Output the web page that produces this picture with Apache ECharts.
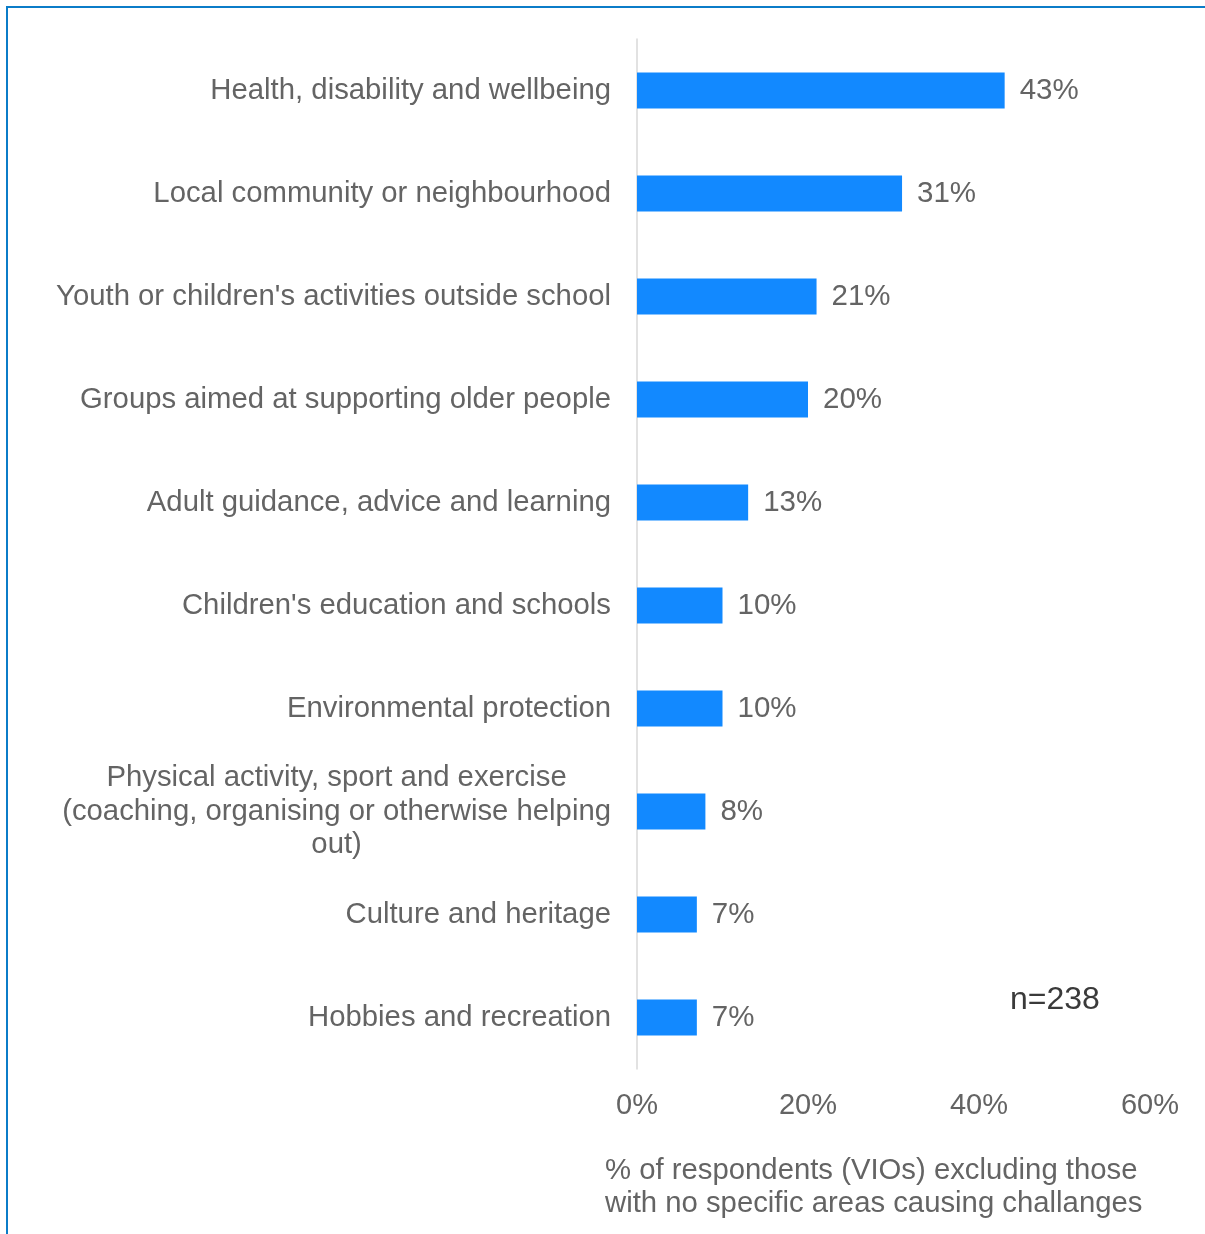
<!DOCTYPE html>
<html>
<head>
<meta charset="utf-8">
<style>
  html, body { margin: 0; padding: 0; background: #fff; }
  #wrap { position: relative; width: 1205px; height: 1234px; overflow: hidden; }
  #chart { position: absolute; left: 0; top: 0; width: 1205px; height: 1234px; }
  #frame { position: absolute; left: 6px; top: 6px; right: -10px; bottom: -10px;
           border-left: 2px solid #0b7cc8; border-top: 2px solid #0b7cc8; pointer-events: none; }
</style>
<script src="https://cdn.jsdelivr.net/npm/echarts@6/dist/echarts.min.js"></script>
</head>
<body>
<div id="wrap">
  <div id="chart"></div>
  <div id="frame"></div>
</div>
<script>
// Areas of volunteering activity causing challenges
const categories = [
  'Health, disability and wellbeing',
  'Local community or neighbourhood',
  "Youth or children's activities outside school",
  'Groups aimed at supporting older people',
  'Adult guidance, advice and learning',
  "Children's education and schools",
  'Environmental protection',
  'Physical activity, sport and exercise\n(coaching, organising or otherwise helping\nout)',
  'Culture and heritage',
  'Hobbies and recreation'
];
const shares = [43, 31, 21, 20, 13, 10, 10, 8, 7, 7];
const xTicks = { min: 0, max: 60, step: 20 };
const axisTitle = '% of respondents (VIOs) excluding those\nwith no specific areas causing challanges';
const sampleNote = 'n=238';

const FONT = '"Liberation Sans", Arial, sans-serif';
const GREY = '#646464';

const chart = echarts.init(document.getElementById('chart'), null, { renderer: 'canvas' });

chart.setOption({
  animation: false,
  grid: { left: 637, top: 39, width: 513, height: 1030, containLabel: false },
  xAxis: {
    type: 'value',
    min: xTicks.min,
    max: xTicks.max,
    interval: xTicks.step,
    axisLine: { show: false },
    axisTick: { show: false },
    splitLine: { show: false },
    axisLabel: {
      formatter: '{value}%',
      color: GREY,
      fontFamily: FONT,
      fontSize: 29,
      margin: 22
    }
  },
  yAxis: {
    type: 'category',
    data: categories,
    inverse: true,
    axisLine: { show: true, lineStyle: { color: '#d9d9d9', width: 1.5 } },
    axisTick: { show: false },
    axisLabel: {
      color: GREY,
      fontFamily: FONT,
      fontSize: 29.3,
      margin: 26,
      lineHeight: 33.5,
      formatter: function (v) {
        if (v.indexOf('\n') < 0) return v;
        return v.split('\n').map(function (s) { return '{c|' + s + '}'; }).join('\n');
      },
      rich: {
        c: { align: 'center', color: GREY, fontFamily: FONT, fontSize: 29.3, lineHeight: 33.5 }
      }
    }
  },
  series: [{
    type: 'bar',
    data: shares,
    barWidth: 36,
    itemStyle: { color: '#1289ff' },
    label: {
      show: true,
      position: 'right',
      distance: 15,
      formatter: '{c}%',
      color: GREY,
      fontFamily: FONT,
      fontSize: 29.5
    }
  }],
  graphic: [
    {
      type: 'text',
      left: 605,
      top: 1154,
      style: { text: axisTitle, fill: GREY, font: '29.3px ' + FONT, lineHeight: 33 }
    },
    {
      type: 'text',
      left: 1010,
      top: 984,
      style: { text: sampleNote, fill: '#3a3a3a', font: '32px ' + FONT }
    }
  ]
});
</script>
</body>
</html>
